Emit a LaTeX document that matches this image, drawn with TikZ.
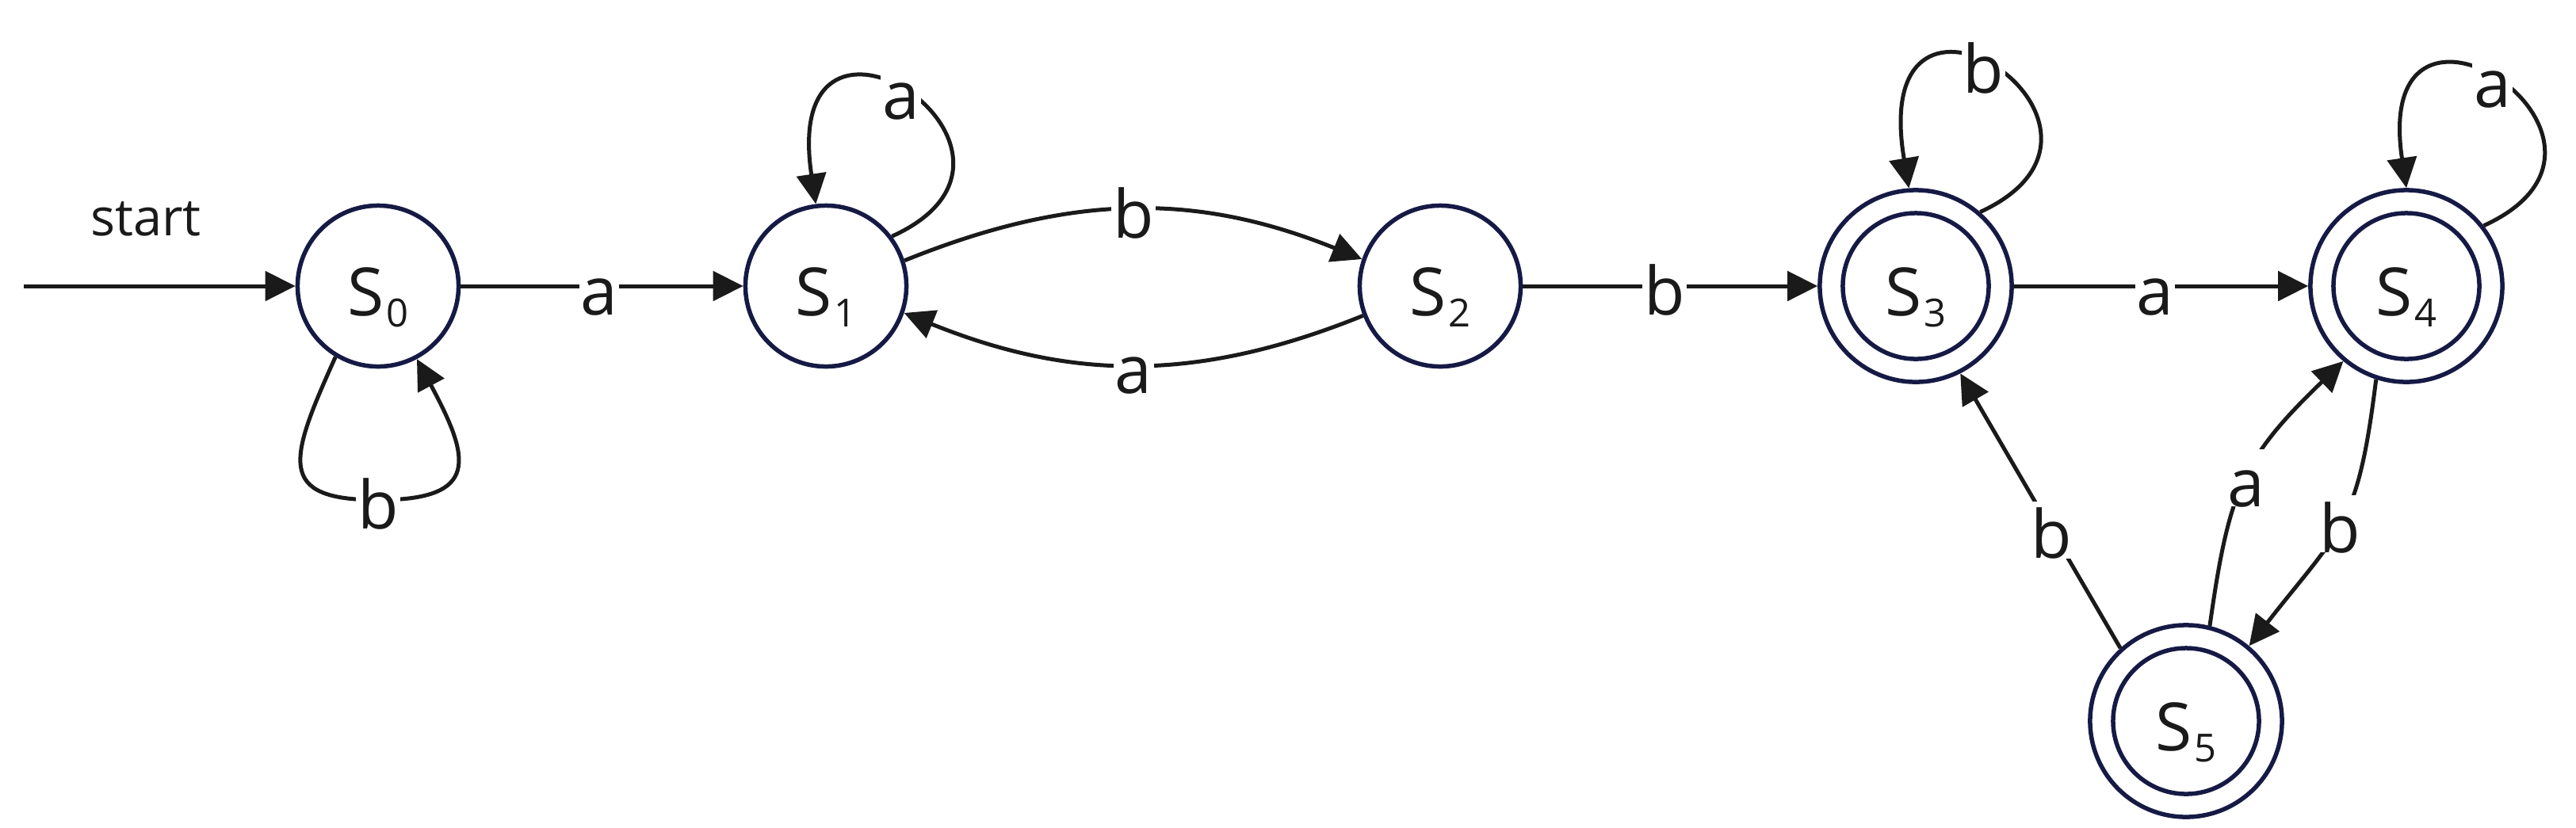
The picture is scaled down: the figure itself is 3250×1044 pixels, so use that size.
\documentclass[tikz,border=0pt]{standalone}
\usepackage{fontspec}
\setmainfont{Open Sans}
\usetikzlibrary{arrows.meta,calc}
\definecolor{ink}{HTML}{1A1A1A}
\definecolor{ring}{HTML}{151A45}
\newcommand\stsub[1]{\kern0.6pt\raisebox{-0.14cm}{\fontsize{13.9}{16}\selectfont #1}}
\begin{document}
\begin{tikzpicture}[x=0.01cm,y=-0.01cm,
  >={Triangle[length=0.38cm,width=0.37cm]},
  st/.style={circle,draw=ring,line width=0.055cm,minimum size=2.03cm,inner sep=0pt,
    text=ink,font=\fontsize{23.9}{28}\selectfont,text height=0.74cm,text depth=0pt},
  acc/.style={st,minimum size=2.42cm},
  inring/.style={draw=ring,line width=0.055cm},
  tr/.style={draw=ink,line width=0.05cm,->},
  lbl/.style={fill=white,text=ink,inner xsep=0.02cm,inner ysep=0pt,
    font=\fontsize{23.9}{28}\selectfont,text height=0.72cm,text depth=0pt},
]
\useasboundingbox (0,0) rectangle (3250,1044);

% states
\node[st]  (S0) at (477,361)  {S\stsub{0}};
\node[st]  (S1) at (1042,361) {S\stsub{1}};
\node[st]  (S2) at (1817,361) {S\stsub{2}};
\node[acc] (S3) at (2417,361) {S\stsub{3}};
\node[acc] (S4) at (3036,361) {S\stsub{4}};
\node[acc] (S5) at (2758,910) {S\stsub{5}};
\draw[inring] (S3.center) circle[radius=0.92cm];
\draw[inring] (S4.center) circle[radius=0.92cm];
\draw[inring] (S5.center) circle[radius=0.92cm];

% start
\node[anchor=base,text=ink,font=\fontsize{18.5}{22}\selectfont,inner sep=0pt] (startlbl) at (184,297) {start};
\coordinate (st0) at (30,361);
\draw[tr] (st0) -- (S0);

% straight transitions
\draw[tr] (S0) -- node[lbl,pos=0.49]{a} (S1);
\draw[tr] (S2) -- node[lbl,pos=0.48]{b} (S3);
\draw[tr] (S3) -- node[lbl,pos=0.48]{a} (S4);
\draw[tr] (S5.132) -- node[lbl,pos=0.43]{b} (S3.-63);

% curved transitions
\draw[tr] (S1.18) to[out=22,in=158] node[lbl]{b} (S2.161);
\draw[tr] (S2.201) to[out=202,in=-22] node[lbl]{a} (S1.-19);
\draw[tr] (S5.76) to[out=82,in=224,looseness=1.2] node[lbl]{a} (S4.230);
\draw[tr] (S4.252) to[out=-97,in=52,looseness=1.3] node[lbl]{b} (S5.50);

% loops
\draw[tr] (S0.-121) .. controls ($(S0)+(-112,219)$) and ($(S0)+(-130,270)$) .. ($(S0)+(0,270)$) node[lbl]{b}
  .. controls ($(S0)+(130,270)$) and ($(S0)+(116,217)$) .. (S0.-62);
\draw[tr] (S1.37) .. controls ($(S1)+(318,-169)$) and ($(S1)+(-60,-418)$) .. (S1.97) node[lbl,pos=0.53]{a};
\draw[tr] (S3.49) .. controls ($(S3)+(315,-201)$) and ($(S3)+(-63,-450)$) .. (S3.94) node[lbl,pos=0.55]{b};
\draw[tr] (S4.38) .. controls ($(S4)+(332,-183)$) and ($(S4)+(-46,-432)$) .. (S4.90) node[lbl,pos=0.53]{a};
\end{tikzpicture}
\end{document}
